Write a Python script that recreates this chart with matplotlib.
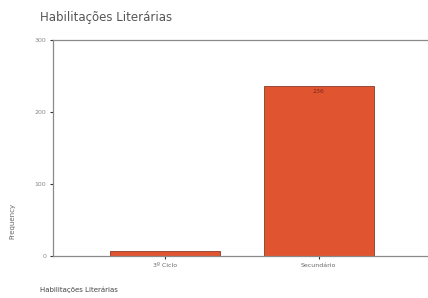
import matplotlib.pyplot as plt

# Dados
categorias = ['3º Ciclo', 'Secundário']
frequencias = [7, 236]
yticks = [0, 100, 200, 300]

fig = plt.figure(figsize=(4.28, 2.98), dpi=100)
ax = fig.add_axes([0.124, 0.141, 0.876, 0.725])

x = list(range(len(categorias)))
ax.bar(x, frequencias, width=0.714, color='#E0552F', edgecolor='#8a3a26', linewidth=0.6)

# Valor dentro da barra mais alta
ax.text(1, frequencias[1] - 4, str(frequencias[1]), ha='center', va='top',
        fontsize=4.5, color='#7a2a1a')

ax.set_xlim(-0.727, 1.71)
ax.set_ylim(0, 300)
ax.set_xticks(x)
ax.set_xticklabels(categorias, fontsize=4.5, color='#666666')
ax.set_yticks(yticks)
ax.set_yticklabels([str(v) for v in yticks], fontsize=4.5, color='#888888')
ax.tick_params(axis='both', length=2, width=0.8, color='#333333', pad=3)

for lado in ['left', 'top', 'bottom']:
    ax.spines[lado].set_color('#8a8a8a')
    ax.spines[lado].set_linewidth(0.9)
ax.spines['right'].set_visible(False)

fig.text(0.093, 0.94, 'Habilitações Literárias', fontsize=8.5, color='#555555', va='center')
fig.text(0.093, 0.017, 'Habilitações Literárias', fontsize=5, color='#444444', va='bottom')
fig.text(0.03, 0.26, 'Frequency', fontsize=5, color='#666666', rotation=90, va='center', ha='center')

fig.savefig('out.png', dpi=100, facecolor='white')
